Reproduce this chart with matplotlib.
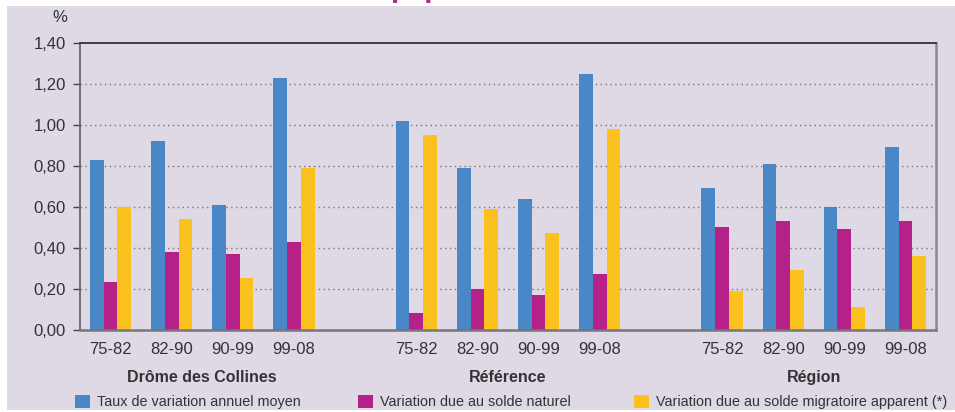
import numpy as np
import matplotlib.pyplot as plt
from matplotlib.patches import Rectangle, Patch

# data
periods = ["75-82", "82-90", "90-99", "99-08"]
zones = ["Drôme des Collines", "Référence", "Région"]
taux_annuel = [0.83, 0.92, 0.61, 1.23,   1.02, 0.79, 0.64, 1.25,   0.69, 0.81, 0.60, 0.89]
solde_naturel = [0.23, 0.38, 0.37, 0.43,   0.08, 0.20, 0.17, 0.27,   0.50, 0.53, 0.49, 0.53]
solde_migratoire = [0.60, 0.54, 0.25, 0.79,   0.95, 0.59, 0.47, 0.98,   0.19, 0.29, 0.11, 0.36]
series_names = ["Taux de variation annuel moyen", "Variation due au solde naturel",
                "Variation due au solde migratoire apparent (*)"]
colors = ["#4A87C6", "#B52089", "#FBC11F"]
yticks = [0.0, 0.2, 0.4, 0.6, 0.8, 1.0, 1.2, 1.4]

plt.rcParams["font.family"] = ["Liberation Sans", "DejaVu Sans"]
TXT = "#333333"
BG = "#DED9E4"

fig = plt.figure(figsize=(9.55, 4.12), dpi=100, facecolor="white")
# lavender panel (white margin on left and top like the source)
fig.patches.append(Rectangle((7 / 955, 2 / 412), 1 - 7 / 955, 1 - 8 / 412,
                             transform=fig.transFigure, facecolor=BG,
                             edgecolor="none", zorder=-5))
# cut-off title above the frame
fig.text(391 / 955, 1 + 2.2 / 412, "population", color="#A8327F", fontsize=17,
         fontweight="bold", family="DejaVu Sans", va="baseline", ha="left")

ax = fig.add_axes([80 / 955, 1 - 329.5 / 412, 856 / 955, 286.5 / 412])
ax.set_facecolor(BG)

# x positions: 4 periods per zone, one empty slot between zones
slots = []
for z in range(len(zones)):
    for p in range(len(periods)):
        slots.append(z * (len(periods) + 1) + p)
slots = np.array(slots)
w = 0.224
for i, (vals, c) in enumerate(zip([taux_annuel, solde_naturel, solde_migratoire], colors)):
    ax.bar(slots + (i - 1) * w, vals, width=w, color=c, zorder=3)

ax.set_xlim(-0.5, slots[-1] + 0.5)
ax.set_ylim(0, 1.4)
ax.set_yticks(yticks)
ax.set_yticklabels([f"{v:.2f}".replace(".", ",") for v in yticks])
ax.set_xticks(slots)
ax.set_xticklabels(periods * len(zones))
ax.tick_params(axis="y", length=5, width=1, color="#444444", pad=5,
               labelsize=12, labelcolor=TXT)
ax.tick_params(axis="x", length=0, pad=9, labelsize=12, labelcolor=TXT)

for v in yticks[1:-1]:
    ax.axhline(v, color="#777777", linestyle=(0, (1, 2.5)), linewidth=1, zorder=1)

ax.spines["top"].set_color("#333333")
ax.spines["top"].set_linewidth(1.3)
ax.spines["left"].set_color("#666666")
ax.spines["left"].set_linewidth(1.3)
ax.spines["bottom"].set_color("#777777")
ax.spines["bottom"].set_linewidth(1.8)
ax.spines["right"].set_color("#888888")
ax.spines["right"].set_linewidth(1.8)
ax.spines["bottom"].set_zorder(4)

fig.text(60 / 955, 1 - 18 / 412, "%", fontsize=12, color=TXT, ha="center", va="center")

# zone labels under each group
for z, name in enumerate(zones):
    xc = z * (len(periods) + 1) + (len(periods) - 1) / 2
    ax.text(xc, -0.167, name, transform=ax.get_xaxis_transform(), ha="center",
            va="center", fontsize=11.5, fontweight="bold", color=TXT)

# legend entries
legend_x = [75 / 955, 358 / 955, 634 / 955]
for name, c, lx in zip(series_names, colors, legend_x):
    fig.legend(handles=[Patch(facecolor=c, edgecolor="none")], labels=[name],
               loc="center left", bbox_to_anchor=(lx, 1 - 402 / 412), frameon=False,
               fontsize=10.4, handlelength=1.05, handleheight=1.05, handletextpad=0.45,
               borderpad=0, borderaxespad=0, labelcolor=TXT)

plt.savefig("out.png", dpi=100, facecolor=fig.get_facecolor())
